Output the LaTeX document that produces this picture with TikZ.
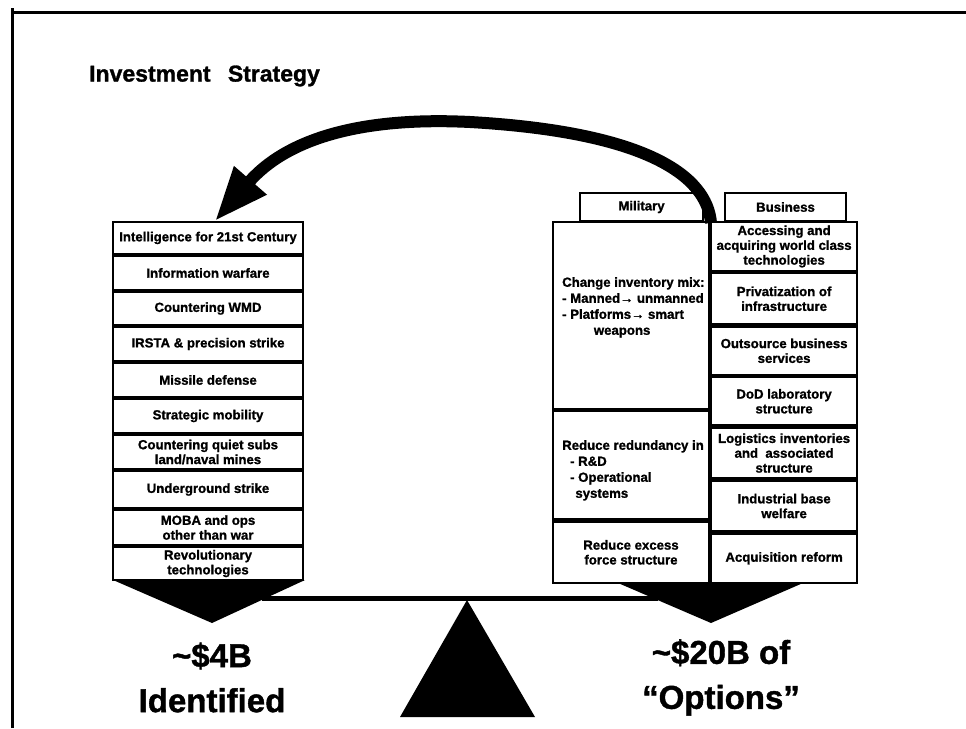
\documentclass[tikz,border=0pt]{standalone}
\usepackage{fontspec}
\setmainfont{Liberation Sans}[BoldFeatures={FakeBold=1.2}]
\usetikzlibrary{arrows.meta}
\begin{document}
\begin{tikzpicture}[x=1pt,y=-1pt,
  box/.style={draw=black, line width=2.4pt, fill=white, inner sep=0.5pt, align=center,
    font=\fontsize{13.2}{14.8}\selectfont\bfseries},
  tabbox/.style={box, line width=2pt},
  mtext/.style={inner sep=0pt, align=left, font=\fontsize{13.2}{16}\selectfont\bfseries},
  big/.style={inner sep=0pt, align=center, font=\fontsize{33}{45}\selectfont\bfseries},
  frame/.style={line width=2.2pt}
]
\useasboundingbox (0,0) rectangle (966,728);

% frame
\coordinate (fBL) at (12.5,728);
\coordinate (fTL) at (12.5,8);
\coordinate (fT1) at (11.4,12.5);
\coordinate (fT2) at (966,12.5);
\draw[frame] (fBL) -- (fTL);
\draw[frame] (fT1) -- (fT2);

% title
\node[anchor=west, inner sep=0pt, font=\fontsize{23}{27}\selectfont\bfseries] (title) at (89,76) {Investment\hspace{0.75em}Strategy};

% balance: pans, beam, fulcrum
\coordinate (lp1) at (113,580); \coordinate (lp2) at (305,580); \coordinate (lp3) at (212,623);
\coordinate (rp1) at (618,583); \coordinate (rp2) at (803,583); \coordinate (rp3) at (711,623);
\fill (lp1) -- (lp2) -- (lp3) -- cycle;
\fill (rp1) -- (rp2) -- (rp3) -- cycle;
\coordinate (beamL) at (262,598); \coordinate (beamR) at (658,598);
\draw[line width=5pt] (beamL) -- (beamR);
\coordinate (fa) at (467,600); \coordinate (fb1) at (400,717); \coordinate (fb2) at (535,717);
\fill (fa) -- (fb1) -- (fb2) -- cycle;

% left column
\node[box, minimum width=190pt, minimum height=31.9pt] (l1) at (208,237.95) {Intelligence for 21st Century};
\node[box, minimum width=190pt, minimum height=33.8pt] (l2) at (208,273) {Information warfare};
\node[box, minimum width=190pt, minimum height=32.8pt] (l3) at (208,308.5) {Countering WMD};
\node[box, minimum width=190pt, minimum height=33.8pt] (l4) at (208,344) {IRSTA \& precision strike};
\node[box, minimum width=190pt, minimum height=33.8pt] (l5) at (208,380) {Missile defense};
\node[box, minimum width=190pt, minimum height=33.8pt] (l6) at (208,416) {Strategic mobility};
\node[box, minimum width=190pt, minimum height=33.8pt] (l7) at (208,452) {Countering quiet subs\\land/naval mines};
\node[box, minimum width=190pt, minimum height=36.8pt] (l8) at (208,489.5) {Underground strike};
\node[box, minimum width=190pt, minimum height=34.8pt] (l9) at (208,527.5) {MOBA and ops\\other than war};
\node[box, minimum width=190pt, minimum height=32.9pt] (l10) at (208,563.55) {Revolutionary\\technologies};

% tabs
\node[tabbox, minimum width=123pt, minimum height=28pt] (mil) at (641.5,207) {Military};
\node[tabbox, minimum width=121pt, minimum height=28pt] (bus) at (785.5,207) {Business};

% military column
\node[box, minimum width=156pt, minimum height=186.9pt] (m1) at (631,315.45) {};
\node[box, minimum width=156pt, minimum height=108.3pt] (m2) at (631,465.25) {};
\node[box, minimum width=156pt, minimum height=61.4pt] (m3) at (631,552.3) {Reduce excess\\force structure};
\node[mtext, anchor=north west] (m1t) at (562,277) {Change inventory mix:\\- Manned→ unmanned\\- Platforms→ smart\\\hspace*{2.4em}weapons};
\node[mtext, anchor=north west] (m2t) at (562,440) {Reduce redundancy in\\\hspace*{0.6em}- R\&D\\\hspace*{0.6em}- Operational\\\hspace*{1em}systems};

% business column
\node[box, minimum width=145.8pt, minimum height=48.9pt] (b1) at (784.1,246.45) {Accessing and\\acquiring world class\\technologies};
\node[box, minimum width=145.8pt, minimum height=51.3pt] (b2) at (784.1,298.75) {Privatization of\\infrastructure};
\node[box, minimum width=145.8pt, minimum height=48.3pt] (b3) at (784.1,350.75) {Outsource business\\services};
\node[box, minimum width=145.8pt, minimum height=48.3pt] (b4) at (784.1,401.25) {DoD laboratory\\structure};
\node[box, minimum width=145.8pt, minimum height=50.8pt] (b5) at (784.1,453) {Logistics inventories\\and\ \ associated\\structure};
\node[box, minimum width=145.8pt, minimum height=50.8pt] (b6) at (784.1,506) {Industrial base\\welfare};
\node[box, minimum width=145.8pt, minimum height=49.4pt] (b7) at (784.1,558.3) {Acquisition reform};

% bottom labels
\node[big] (lab1) at (212,677.5) {\textasciitilde\$4B\\Identified};
\node[big] (lab2) at (721,677.5) {\textasciitilde\$20B of\\“Options”};

% big curved arrow
\coordinate (arrS) at (711,223);
\coordinate (arrM) at (470,122);
\coordinate (arrT) at (215,221);
\draw[line width=12pt, -{Triangle[length=54pt,width=40pt]}] (arrS) .. controls (707,175) and (645,132) .. (arrM) .. controls (370,117) and (290,135) .. (arrT);
\end{tikzpicture}
\end{document}
